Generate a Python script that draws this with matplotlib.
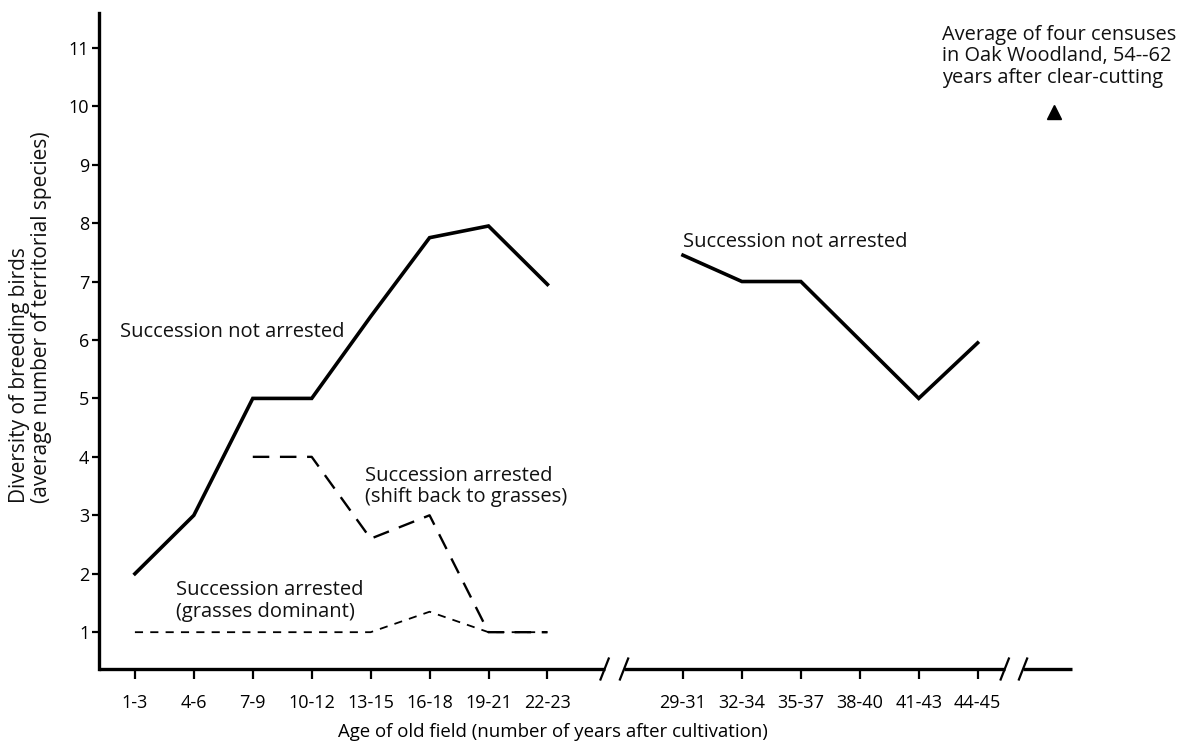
import numpy as np
import matplotlib
matplotlib.use("Agg")
import matplotlib.pyplot as plt

plt.rcParams['font.family'] = ['Open Sans', 'DejaVu Sans']

# age classes (years after cultivation)
early_ages = ["1-3", "4-6", "7-9", "10-12", "13-15", "16-18", "19-21", "22-23"]
late_ages = ["29-31", "32-34", "35-37", "38-40", "41-43", "44-45"]

# succession not arrested
not_arrested_early = [2.0, 3.0, 5.0, 5.0, 6.4, 7.75, 7.95, 6.95]
not_arrested_late = [7.45, 7.0, 7.0, 6.0, 5.0, 5.95]

# succession arrested, shift back to grasses (from 7-9 onward)
shift_back = [4.0, 4.0, 2.6, 3.0, 1.0, 1.0]

# succession arrested, grasses dominant
grasses = [1.0, 1.0, 1.0, 1.0, 1.0, 1.35, 1.0, 1.0]

# oak woodland census average (54-62 years)
oak_woodland = 9.9

# layout of the broken x axis
GAP = 2.3            # extra space for the break between the two groups
X_LEFT, X_RIGHT = -0.61, 15.9
Y_LOW, Y_HIGH = 0.37, 11.6

x_early = np.arange(len(early_ages))
x_late = np.arange(len(late_ages)) + len(early_ages) + GAP - 1
x_oak = x_late[-1] + 1.3

fig = plt.figure(figsize=(11.88, 7.45), dpi=100)
ax = fig.add_axes([0.0833, 0.102, 0.819, 0.881])

# main lines
ax.plot(x_early, not_arrested_early, color="black", lw=2.6, solid_joinstyle="miter")
ax.plot(x_late, not_arrested_late, color="black", lw=2.6, solid_joinstyle="miter")
ax.plot(x_early[2:], shift_back, color="black", lw=1.7, dashes=(7, 4.5))
ax.plot(x_early, grasses, color="black", lw=1.3, dashes=(4.5, 4))
ax.plot([x_oak], [oak_woodland], marker="^", color="black", ms=10, lw=0)

# text labels
txt = dict(fontsize=14.5, color="#111111", va="center")
ax.text(-0.25, 6.14, "Succession not arrested", ha="left", **txt)
ax.text(x_late[0], 7.68, "Succession not arrested", ha="left", **txt)
ax.text(3.9, 3.49, "Succession arrested\n(shift back to grasses)", ha="left",
        linespacing=1.1, **txt)
ax.text(0.7, 1.53, "Succession arrested\n(grasses dominant)", ha="left",
        linespacing=1.1, **txt)
ax.text(13.7, 10.85, "Average of four censuses\nin Oak Woodland, 54--62\nyears after clear-cutting",
        ha="left", linespacing=1.1, fontsize=14.4, color="#111111", va="center")

# axes setup
ax.set_xlim(X_LEFT, X_RIGHT)
ax.set_ylim(Y_LOW, Y_HIGH)
ax.set_xticks(np.concatenate([x_early, x_late]))
ax.set_xticklabels(early_ages + late_ages, fontsize=13)
ax.set_yticks(range(1, 12))
ax.set_yticklabels([str(v) for v in range(1, 12)], fontsize=13)
ax.tick_params(axis="x", length=7, width=1.6, pad=11, direction="out")
ax.tick_params(axis="y", length=5, width=1.6, pad=2, direction="out")

for side in ["top", "right", "bottom"]:
    ax.spines[side].set_visible(False)
ax.spines["left"].set_linewidth(2.4)

# draw bottom axis with // breaks
trans = ax.get_xaxis_transform()
breaks = [(x_early[-1] + 0.97, x_early[-1] + 1.3), (x_late[-1] + 0.46, x_late[-1] + 0.77)]
seg_start = X_LEFT
for b0, b1 in breaks:
    ax.plot([seg_start, b0], [0, 0], color="black", lw=2.4, transform=trans,
            clip_on=False, solid_capstyle="butt")
    for bx in (b0, b1):
        ax.plot([bx - 0.07, bx + 0.07], [-0.016, 0.016], color="black", lw=1.6,
                transform=trans, clip_on=False)
    seg_start = b1
ax.plot([seg_start, X_RIGHT], [0, 0], color="black", lw=2.4, transform=trans,
        clip_on=False, solid_capstyle="butt")

ax.set_xlabel("Age of old field (number of years after cultivation)", fontsize=13.4)
ax.xaxis.set_label_coords(0.467, -0.082)
fig.text(0.0257, 0.574, "Diversity of breeding birds\n(average number of territorial species)",
         rotation=90, ha="center", va="center", multialignment="left", fontsize=15,
         linespacing=1.05, color="#111111")

fig.savefig("out.png", dpi=100)
